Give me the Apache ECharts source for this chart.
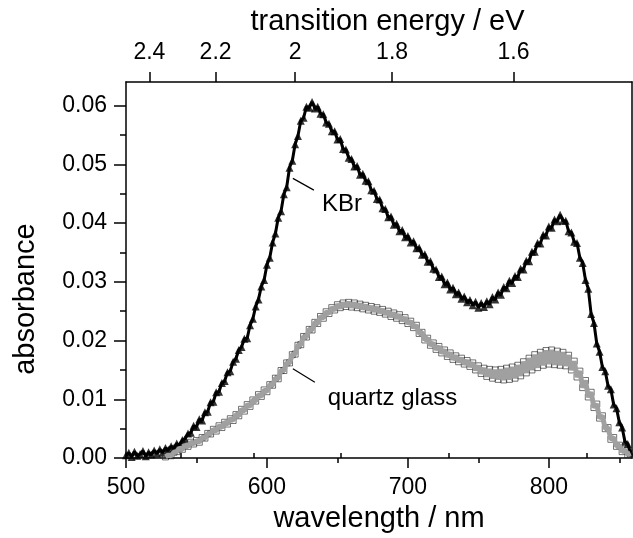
<!DOCTYPE html>
<html>
<head>
<meta charset="utf-8">
<script src="https://cdn.jsdelivr.net/npm/echarts@6/dist/echarts.min.js"></script>
<style>
  html, body { margin: 0; padding: 0; background: #fff; }
  #chart { width: 633px; height: 538px; }
</style>
</head>
<body>
<div id="chart"></div>
<script>
// wavelength grid of the readings (nm)
var wlStart = 500;
var wlStep = 2;

// KBr absorbance, 500..858 nm every 2 nm (units of 1e-4)
var kbr = [
  5, 9, 2, 11, 4, 7, 12, 3, 10, 6, 13, 8, 15, 9, 17, 14, 20, 17, 25, 22,
  31, 33, 42, 43, 55, 53, 66, 64, 78, 79, 95, 96, 112, 113, 128, 131, 146, 148, 164, 169,
  184, 189, 203, 204, 226, 237, 258, 270, 292, 303, 329, 341, 367, 382, 409, 420, 449, 461, 494, 506,
  534, 548, 574, 579, 598, 596, 606, 595, 598, 586, 585, 571, 569, 556, 556, 542, 543, 526, 525, 511,
  509, 496, 497, 482, 484, 472, 471, 456, 455, 441, 440, 425, 424, 410, 411, 397, 399, 386, 388, 376,
  378, 367, 369, 357, 358, 346, 347, 334, 335, 322, 321, 308, 309, 296, 299, 287, 290, 279, 282, 271,
  275, 265, 269, 260, 266, 256, 264, 257, 267, 262, 274, 270, 282, 278, 291, 289, 302, 298, 310, 308,
  322, 321, 336, 335, 351, 351, 366, 365, 380, 379, 394, 392, 406, 403, 414, 404, 404, 386, 384, 368,
  366, 341, 332, 303, 288, 245, 230, 195, 181, 155, 148, 123, 117, 91, 85, 61, 52, 28, 24, 9
];

// quartz glass absorbance, starts at 528 nm, every 2 nm (units of 1e-4)
var quartzStart = 528;
var quartz = [
  2, 5, 4, 10, 11, 17, 15, 22, 20, 27, 24, 30, 27, 35, 34, 42, 41, 49, 46, 55,
  52, 61, 58, 67, 64, 74, 72, 83, 80, 91, 88, 99, 97, 108, 105, 116, 113, 125, 124, 136,
  135, 149, 149, 162, 162, 176, 177, 192, 193, 207, 206, 219, 218, 231, 229, 241, 238, 249, 246, 256,
  252, 261, 256, 264, 258, 265, 257, 264, 256, 262, 254, 260, 252, 258, 250, 256, 248, 253, 245, 250,
  241, 247, 238, 244, 234, 239, 229, 233, 222, 226, 212, 214, 201, 204, 192, 196, 185, 190, 179, 184,
  173, 179, 168, 174, 164, 170, 160, 166, 156, 162, 150, 157, 144, 153, 139, 151, 136, 150, 134, 151,
  133, 153, 134, 155, 136, 158, 140, 164, 145, 170, 150, 176, 154, 180, 158, 183, 160, 184, 159, 182,
  158, 180, 157, 175, 150, 165, 138, 148, 120, 132, 104, 112, 86, 92, 68, 72, 50, 52, 32, 35,
  20, 22, 11, 14, 6, 8
];

// axis ticks
var wlTicks = [500, 600, 700, 800];
var wlMinor = [550, 650, 750, 850];
var absTicks = [0, 0.01, 0.02, 0.03, 0.04, 0.05, 0.06];
var absMinor = [0.005, 0.015, 0.025, 0.035, 0.045, 0.055];
var eTicks = [2.4, 2.2, 2.0, 1.8, 1.6];
var eMinor = [2.3, 2.1, 1.9, 1.7, 1.5];
var hc = 1239.84; // eV*nm

// annotations [text, textPos, lineFrom, lineTo] in data units
var notes = [
  ['KBr', [639, 0.0432], [618.4, 0.0476], [633.3, 0.0456]],
  ['quartz glass', [643.2, 0.0101], [618.4, 0.0152], [634.0, 0.0129]]
];

function toPairs(start, vals) {
  return vals.map(function (v, i) { return [start + i * wlStep, v / 10000]; });
}
function toWl(list) {
  return list.map(function (e) { return hc / e; });
}

var font = 'Liberation Sans, Arial, sans-serif';
var black = '#000';
var kbrData = toPairs(wlStart, kbr);
var quartzData = toPairs(quartzStart, quartz);

var chart = echarts.init(document.getElementById('chart'));

function tickAxis(extra) {
  var base = {
    type: 'value',
    min: 500,
    max: 859,
    gridIndex: 0,
    splitLine: { show: false },
    axisLine: { show: false },
    axisLabel: { show: false },
    axisTick: { show: false }
  };
  return Object.assign(base, extra);
}

chart.setOption({
  animation: false,
  grid: { left: 126, right: 1, top: 82, bottom: 68 },
  xAxis: [
    tickAxis({
      position: 'bottom',
      name: 'wavelength / nm',
      nameLocation: 'middle',
      nameGap: 36,
      nameTextStyle: { fontFamily: font, fontSize: 29, color: black },
      axisLine: { show: true, onZero: false, lineStyle: { color: black, width: 1.5 } },
      axisTick: { show: true, customValues: wlTicks, length: 10, lineStyle: { color: black, width: 1.5 } },
      axisLabel: {
        show: true, customValues: wlTicks, margin: 18,
        fontFamily: font, fontSize: 23, color: black
      }
    }),
    tickAxis({
      position: 'bottom',
      axisTick: { show: true, customValues: wlMinor, length: 5, lineStyle: { color: black, width: 1.5 } }
    }),
    tickAxis({
      position: 'top',
      name: 'transition energy / eV',
      nameLocation: 'middle',
      nameGap: 34,
      nameTextStyle: { fontFamily: font, fontSize: 29, color: black, padding: [0, 0, 0, 17] },
      axisLine: { show: true, onZero: false, lineStyle: { color: black, width: 1.5 } },
      axisTick: { show: true, customValues: toWl(eTicks), length: 10, lineStyle: { color: black, width: 1.5 } },
      axisLabel: {
        show: true, customValues: toWl(eTicks), margin: 18,
        fontFamily: font, fontSize: 23, color: black,
        formatter: function (v) { return String(Number((hc / v).toFixed(1))); }
      }
    }),
    tickAxis({
      position: 'top',
      axisTick: { show: true, customValues: toWl(eMinor), length: 5, lineStyle: { color: black, width: 1.5 } }
    })
  ],
  yAxis: [
    {
      type: 'value',
      min: 0,
      max: 0.064,
      position: 'left',
      name: 'absorbance',
      nameLocation: 'middle',
      nameGap: 86,
      nameTextStyle: { fontFamily: font, fontSize: 29, color: black, padding: [0, 58, 0, 0] },
      splitLine: { show: false },
      axisLine: { show: true, onZero: false, lineStyle: { color: black, width: 1.5 } },
      axisTick: { show: true, customValues: absTicks, length: 12, lineStyle: { color: black, width: 1.5 } },
      axisLabel: {
        customValues: absTicks, margin: 19,
        fontFamily: font, fontSize: 23, color: black,
        formatter: function (v) { return v.toFixed(2); }
      }
    },
    {
      type: 'value',
      min: 0,
      max: 0.064,
      position: 'left',
      splitLine: { show: false },
      axisLine: { show: false },
      axisLabel: { show: false },
      axisTick: { show: true, customValues: absMinor, length: 6, lineStyle: { color: black, width: 1.5 } }
    },
    {
      type: 'value',
      min: 0,
      max: 0.064,
      position: 'right',
      splitLine: { show: false },
      axisLine: { show: true, onZero: false, lineStyle: { color: black, width: 1.5 } },
      axisLabel: { show: false },
      axisTick: { show: false }
    }
  ],
  series: [
    // thin band under the KBr triangles
    {
      type: 'line',
      showSymbol: false,
      silent: true,
      lineStyle: { color: black, width: 3 },
      data: kbrData
    },
    {
      name: 'KBr',
      type: 'scatter',
      symbol: 'triangle',
      symbolSize: 8,
      itemStyle: { color: black },
      data: kbrData
    },
    // grey band under the quartz squares
    {
      type: 'line',
      showSymbol: false,
      silent: true,
      lineStyle: { color: '#a0a0a0', width: 5 },
      data: quartzData
    },
    {
      name: 'quartz glass',
      type: 'scatter',
      symbol: 'rect',
      symbolSize: 6,
      itemStyle: { color: 'rgba(255,255,255,0)', borderColor: '#222', borderWidth: 0.8 },
      data: quartzData
    }
  ]
});

// labels and leader lines, placed from data coordinates
var graphics = [];
notes.forEach(function (n) {
  var t = chart.convertToPixel({ xAxisIndex: 0, yAxisIndex: 0 }, n[1]);
  var a = chart.convertToPixel({ xAxisIndex: 0, yAxisIndex: 0 }, n[2]);
  var b = chart.convertToPixel({ xAxisIndex: 0, yAxisIndex: 0 }, n[3]);
  graphics.push({
    type: 'line',
    shape: { x1: a[0], y1: a[1], x2: b[0], y2: b[1] },
    style: { stroke: black, lineWidth: 1.2 }
  });
  graphics.push({
    type: 'text',
    x: t[0],
    y: t[1],
    style: { text: n[0], fontFamily: font, fontSize: 24, fill: black, verticalAlign: 'middle' }
  });
});
chart.setOption({ graphic: graphics });
</script>
</body>
</html>
